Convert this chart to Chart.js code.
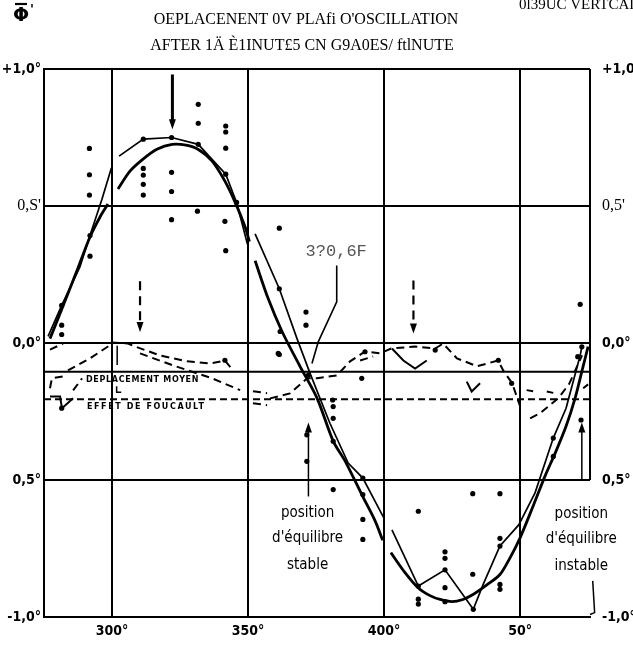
<!DOCTYPE html>
<html><head><meta charset="utf-8">
<script src="https://cdn.jsdelivr.net/npm/chart.js@4/dist/chart.umd.min.js"></script>
<style>html,body{margin:0;padding:0;background:#fff;overflow:hidden}</style>
</head><body>
<canvas id="c" width="633" height="649"></canvas>
<script>
// ---------- texts ----------
const titleLines = ["OEPLACENENT 0V PLAfi O'OSCILLATION", "AFTER 1Ä È1INUT£5 CN G9A0ES/ ftlNUTE"];
const cornerText = "0l39UC VERTCAL";
const symbolText = "Φ";
const xTicks = [300, 350, 400, 450];
const xTickLabels = ["300°", "350°", "400°", "50°"];
const yTicks = [-1, -0.5, 0, 0.5, 1];
const yLeftLabels = ["-1,0°", "0,5°", "0,0°", "0,S'", "+1,0°"];
const yRightLabels = ["-1,0°", "0,5°", "0,0°", "0,5'", "+1,0°"];
const calloutLabel = "3?0,6F";
const stableLabel = ["position", "d'équilibre", "stable"];
const instableLabel = ["position", "d'équilibre", "instable"];
const moyenLabel = "DEPLACEMENT MOYEN";
const foucaultLabel = "EFFET DE FOUCAULT";

// ---------- data (degrees, amplitude in degrees) ----------
const xRange = [275, 475.7];
const smoothCurve = [[277.2,0.016],[281.6,0.125],[286.8,0.256],[291.9,0.387],[295.6,0.46],[298.5,0.507],[300,null],
 [302.2,0.562],[306.6,0.627],[311.4,0.671],[316.5,0.707],[322.1,0.725],[327.2,0.722],[331.6,0.707],[336.8,0.664],[341.5,0.591],[345.2,0.515],[348.9,0.424],[350.5,0.37],[351.5,null],
 [352.6,0.30],[357.4,0.162],[362.5,0.042],[369.1,-0.085],[375.4,-0.202],[381.3,-0.358],[385.7,-0.431],[391.9,-0.555],[396.7,-0.649],[399.5,-0.72],[400.5,null],
 [402.5,-0.765],[407.7,-0.838],[412.5,-0.893],[416.9,-0.922],[420.6,-0.936],[425.0,-0.944],[429.0,-0.936],[432.7,-0.918],[437.9,-0.882],[442.6,-0.845],[446.3,-0.784],[450.0,-0.711],[454.8,-0.595],[459.2,-0.485],[462.9,-0.402],[466.9,-0.304],[470.2,-0.202],[472.8,-0.1],[475.0,-0.013]];
const measuredLine = [[276.5,0.024],[281.5,0.137],[288.2,0.278],[291.9,0.392],[296.3,0.525],[299.8,0.64],[300.5,null],
 [302.6,0.682],[311.5,0.744],[321.9,0.75],[331.7,0.725],[341.8,0.616],[345.8,0.513],[349.8,0.36],[351,null],
 [352.6,0.398],[361.5,0.198],[368,0.016],[372.8,-0.111],[380.1,-0.293],[386.8,-0.438],[392.2,-0.493],[400,-0.64],[401.5,null],
 [402.9,-0.682],[412.6,-0.887],[422.4,-0.828],[432.8,-0.972],[436.4,-0.882],[442.6,-0.741],[449.5,-0.664],[455.5,-0.547],[462.2,-0.347],[466.9,-0.238],[472.1,-0.045],[472.7,-0.014]];
const dotsPoints = [[291.7,0.71],[291.7,0.614],[291.7,0.54],[291.9,0.317],[281.5,0.065],[281.5,0.031],[281.5,0.137],[291.9,0.392],
 [311.5,0.637],[311.5,0.613],[311.5,0.579],[311.5,0.54],[311.5,0.744],[321.9,0.623],[321.9,0.553],[321.9,0.45],[321.9,0.75],
 [331.7,0.871],[331.7,0.802],[331.4,0.481],[331.7,0.725],[341.8,0.792],[341.8,0.77],[341.8,0.711],[341.5,0.444],[341.8,0.337],[341.8,0.616],[345.8,0.513],
 [361.5,0.419],[361.5,0.198],[361.8,0.042],[361.5,-0.042],[361.1,-0.038],[371.3,0.113],[371.3,0.065],[472.1,0.141],[472.7,-0.014],[471.2,-0.05],
 [281.5,-0.238],[372.2,-0.117],[371.6,-0.335],[371.6,-0.432],[381.1,-0.208],[381.3,-0.232],[381.3,-0.275],[381.3,-0.359],[381.3,-0.535],
 [392.2,-0.493],[392.2,-0.553],[392.2,-0.644],[392.2,-0.717],[391.8,-0.129],[412.6,-0.614],[412.6,-0.887],[412.6,-0.935],[412.6,-0.953],
 [422.4,-0.762],[422.4,-0.786],[422.4,-0.828],[422.4,-0.893],[422.4,-0.944],[432.6,-0.55],[442.6,-0.55],[432.6,-0.844],[432.8,-0.972],
 [432.6,-1.032],[432.6,-1.063],[432.6,-1.093],[413.2,-1.093],[442.6,-0.713],[442.6,-0.741],[442.6,-0.881],[442.6,-0.899],
 [462.2,-0.347],[462.2,-0.414],[472.4,-0.281],[418.8,-0.026],[393,-0.032],[341.5,-0.063],[442,-0.063],[446.9,-0.147]];
const moyenA = [[277.2,-0.024],[282,-0.002],[283,null],[283.8,-0.1],[291.9,-0.056],[298.5,-0.013],[300,0.002],[305.9,-0.002],[308.5,-0.013],[317.6,-0.045],[327.6,-0.067],[336,-0.075],[341.5,-0.064],[344.5,-0.1]];
const moyenB = [[310.3,-0.038],[322.5,-0.082],[336.8,-0.129],[347.1,-0.172]];
const moyenC = [[277.2,-0.165],[277.9,-0.129],[282,-0.122],[283,null],[285.7,-0.173],[289,-0.129]];
const moyenD = [[351.8,-0.176],[357,-0.183],[357.5,null],[351.8,-0.22],[357,-0.227],[357.5,null],
 [358.1,-0.202],[365.4,-0.184],[371.7,-0.129],[375.4,-0.129],[382.7,-0.118],[387.5,-0.067],[393,-0.031],[398.5,-0.038],[402.6,-0.02],[411.4,-0.013],[418.8,-0.02],[421.7,-0.002],[426.8,-0.056],[434.2,-0.085],[441.9,-0.064],[443.8,-0.1],[447.1,-0.147],[450,-0.231]];
const moyenE = [[391.2,-0.064],[396,-0.049],[396.5,null],[453.7,-0.275],[457.4,-0.256],[464,-0.202],[468,-0.15],[472.8,-0.045],[473,null],
 [452.4,-0.172],[454.8,-0.176],[455.2,null],[459.8,-0.177],[462.2,-0.182],[462.5,null],[473.2,-0.165],[475,-0.151]];
const vMarks = [[277.2,-0.195],[280.9,-0.195],[281.6,-0.238],[285.7,-0.202],[286,null],
 [402.9,-0.02],[407.1,-0.064],[411.4,-0.093],[415.7,-0.064],[416,null],
 [430.4,-0.141],[432.2,-0.177],[435.3,-0.147]];
const moyenLevel = -0.105;
const foucaultLevel = -0.205;

// annotations in data units
const arrowList = [
  {x:322.2, from:0.98, to:0.78, dash:false, w:3},
  {x:310.3, from:0.225, to:0.04, dash:true, w:2.2},
  {x:410.8, from:0.228, to:0.035, dash:true, w:2.2},
  {x:372.2, from:-0.56, to:-0.29, dash:false, w:1.5},
  {x:472.7, from:-0.5, to:-0.29, dash:false, w:1.5}
];
const leaderLine = [[382.6,0.283],[382.6,0.15],[375.8,0.004],[373.5,-0.075]];
const calloutPos = [382.4, 0.333];
const stablePos = [371.9, [-0.62, -0.711, -0.809]];
const instablePos = [472.5, [-0.624, -0.715, -0.816]];
const moyenLabelPos = [290.4, -0.133];
const foucaultLabelPos = [290.8, -0.235];
const bracketLine = [[476.7,-0.868],[477.4,-0.984],[475.7,-0.991]];
const tickMarks = [[[301.9,-0.01],[301.9,-0.08]], [[301.7,-0.158],[301.7,-0.18],[303.4,-0.18]]];

const toXY = arr => arr.map(([x,y]) => ({x, y}));
const lineDS = (arr, w, dash, extra) => Object.assign({data: toXY(arr), borderColor:'#000', backgroundColor:'#000', borderWidth:w, borderDash:dash||[], pointRadius:0, tension:0, spanGaps:false, clip:false}, extra||{});

const tickFont = {family:"'DejaVu Sans Condensed','Liberation Sans Narrow','DejaVu Sans',sans-serif", size:14, weight:'bold'};
const softFont = {family:"'Liberation Serif',serif", size:16, weight:'normal'};

const annot = {
  id: 'annot',
  afterDatasetsDraw(chart) {
    const {ctx, chartArea: ca} = chart;
    const X = chart.scales.x, Y = chart.scales.y;
    const px = v => X.getPixelForValue(v), py = v => Y.getPixelForValue(v);
    ctx.save();
    ctx.strokeStyle = '#000'; ctx.fillStyle = '#000'; ctx.lineCap = 'butt';
    // partial right frame
    ctx.lineWidth = 2; ctx.setLineDash([]);
    ctx.beginPath(); ctx.moveTo(ca.right, py(1)); ctx.lineTo(ca.right, py(-0.5)); ctx.stroke();
    // arrows
    for (const a of arrowList) {
      const x = px(a.x), y1 = py(a.from), y2 = py(a.to);
      const dir = Math.sign(y2 - y1);
      ctx.lineWidth = a.w; ctx.setLineDash(a.dash ? [9, 6] : []);
      ctx.beginPath(); ctx.moveTo(x, y1); ctx.lineTo(x, y2 - dir * 7); ctx.stroke();
      ctx.setLineDash([]);
      ctx.beginPath(); ctx.moveTo(x, y2); ctx.lineTo(x - 3.5, y2 - dir * 10); ctx.lineTo(x + 3.5, y2 - dir * 10); ctx.closePath(); ctx.fill();
    }
    // polylines
    const poly = (pts, w) => { ctx.lineWidth = w; ctx.setLineDash([]); ctx.beginPath(); pts.forEach(([a,b],i)=> i? ctx.lineTo(px(a),py(b)) : ctx.moveTo(px(a),py(b))); ctx.stroke(); };
    poly(leaderLine, 1.6);
    poly(bracketLine, 1.5);
    tickMarks.forEach(t => poly(t, 1.5));
    // texts
    ctx.textAlign = 'center'; ctx.textBaseline = 'middle';
    ctx.font = "17px 'Liberation Mono', 'DejaVu Sans Mono', monospace";
    ctx.fillStyle = '#555';
    ctx.fillText(calloutLabel, px(calloutPos[0]), py(calloutPos[1]));
    ctx.fillStyle = '#000';
    ctx.font = "15px 'DejaVu Sans Condensed', 'DejaVu Sans', sans-serif";
    stableLabel.forEach((t,i) => ctx.fillText(t, px(stablePos[0]), py(stablePos[1][i])));
    instableLabel.forEach((t,i) => ctx.fillText(t, px(instablePos[0]), py(instablePos[1][i])));
    ctx.textAlign = 'left';
    ctx.font = "bold 8px 'DejaVu Sans', sans-serif";
    if ('letterSpacing' in ctx) ctx.letterSpacing = '0.7px';
    ctx.fillText(moyenLabel, px(moyenLabelPos[0]), py(moyenLabelPos[1]));
    if ('letterSpacing' in ctx) ctx.letterSpacing = '1.6px';
    ctx.fillText(foucaultLabel, px(foucaultLabelPos[0]), py(foucaultLabelPos[1]));
    if ('letterSpacing' in ctx) ctx.letterSpacing = '0px';
    ctx.restore();
  },
  afterDraw(chart) {
    const ctx = chart.ctx;
    ctx.save();
    ctx.fillStyle = '#000'; ctx.strokeStyle = '#000';
    ctx.textAlign = 'center'; ctx.textBaseline = 'middle';
    ctx.font = "16px 'Liberation Serif', serif";
    ctx.fillText(titleLines[0], 306, 20);
    ctx.fillText(titleLines[1], 302, 46);
    ctx.textAlign = 'left'; ctx.textBaseline = 'alphabetic';
    ctx.font = "15px 'Liberation Serif', serif";
    ctx.fillText(cornerText, 519, 9);
    ctx.textAlign = 'center'; ctx.textBaseline = 'middle';
    ctx.font = "bold 19px 'DejaVu Sans', sans-serif";
    ctx.fillText(symbolText, 21, 16);
    ctx.lineWidth = 2.2;
    ctx.beginPath(); ctx.moveTo(15, 4); ctx.lineTo(27, 4); ctx.stroke();
    ctx.font = "bold 13px 'DejaVu Sans', sans-serif";
    ctx.fillText("'", 32, 10);
    ctx.restore();
  }
};

new Chart(document.getElementById('c'), {
  type: 'line',
  data: {
    datasets: [
      lineDS([[xRange[0], moyenLevel],[xRange[1], moyenLevel]], 2),
      lineDS([[xRange[0], foucaultLevel],[xRange[1], foucaultLevel]], 2, [7,4]),
      lineDS(smoothCurve, 2.8, [], {tension: 0.3}),
      lineDS(measuredLine, 1.7),
      lineDS(moyenA, 2, [8,5]),
      lineDS(moyenB, 2, [8,5]),
      lineDS(moyenC, 2, [8,5]),
      lineDS(moyenD, 2, [8,5]),
      lineDS(moyenE, 2, [8,5]),
      lineDS(vMarks, 2),
      {data: toXY(dotsPoints), showLine:false, pointRadius:2.6, pointBorderWidth:0, pointBackgroundColor:'#000', borderColor:'#000', clip:false}
    ]
  },
  options: {
    responsive: false, animation: false, devicePixelRatio: 1,
    layout: {padding: {top: 69, left: 0, right: 0, bottom: 0}},
    plugins: {legend: {display:false}, tooltip: {enabled:false}, title: {display:false}},
    scales: {
      x: {
        type: 'linear', min: xRange[0], max: xRange[1],
        afterBuildTicks: ax => { ax.ticks = xTicks.map(v => ({value: v})); },
        afterFit: ax => { ax.height = 32; },
        ticks: {autoSkip:false, maxRotation:0, padding:6, color:'#000', font: tickFont,
          callback: (v) => xTickLabels[xTicks.indexOf(v)]},
        grid: {color:'#000', lineWidth:2, drawTicks:false},
        border: {display:true, color:'#000', width:2}
      },
      y: {
        position: 'left', min: -1, max: 1,
        afterBuildTicks: ax => { ax.ticks = yTicks.map(v => ({value: v})); },
        afterFit: ax => { ax.width = 44; },
        ticks: {autoSkip:false, padding:3, color:'#000',
          font: c => (c.tick && c.tick.value === 0.5) ? softFont : tickFont,
          callback: (v) => yLeftLabels[yTicks.indexOf(v)]},
        grid: {color:'#000', lineWidth:2, drawTicks:false},
        border: {display:true, color:'#000', width:2}
      },
      y2: {
        position: 'right', min: -1, max: 1,
        afterBuildTicks: ax => { ax.ticks = yTicks.map(v => ({value: v})); },
        afterFit: ax => { ax.width = 43; },
        ticks: {autoSkip:false, padding:12, color:'#000',
          font: c => (c.tick && c.tick.value === 0.5) ? softFont : tickFont,
          callback: (v) => yRightLabels[yTicks.indexOf(v)]},
        grid: {display:false, drawTicks:false},
        border: {display:false}
      }
    }
  },
  plugins: [annot]
});
</script>
</body></html>
